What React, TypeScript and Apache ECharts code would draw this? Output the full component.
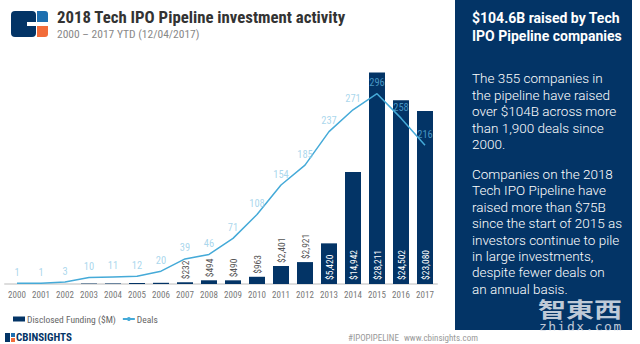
import React, { useEffect, useRef } from "react";
import * as echarts from "echarts";

const years = ["2000","2001","2002","2003","2004","2005","2006","2007","2008","2009","2010","2011","2012","2013","2014","2015","2016","2017"];
const funding = [0, 0, 0, 60, 70, 130, 160, 232, 494, 490, 963, 2401, 2921, 5420, 14942, 28211, 24502, 23080];
const deals = [1, 1, 3, 10, 11, 12, 20, 39, 46, 71, 108, 154, 185, 237, 271, 296, 258, 216];
const panelHeading = ["$104.6B raised by Tech", "IPO Pipeline companies"];
const panelPara1 = ["The 355 companies in", "the pipeline have raised", "over $104B across more", "than 1,900 deals since", "2000."];
const panelPara2 = ["Companies on the 2018", "Tech IPO Pipeline have", "raised more than $75B", "since the start of 2015 as", "investors continue to pile", "in large investments,", "despite fewer deals on", "an annual basis."];
const watermarkText = "zhidx.com";

const NAVY = "#033466";
const LINE = "#45aad8";
const NARROW = "'Liberation Sans Narrow', 'Roboto Condensed', 'DejaVu Sans Condensed', Roboto, sans-serif";

export default function App() {
  const ref = useRef<HTMLDivElement>(null);
  useEffect(() => {
    const chart = echarts.init(ref.current!, undefined, { renderer: "svg" });
    const barData = funding.map((v) => {
      if (v < 200) return { value: v, label: { show: false } };
      const inside = v > 4000;
      return {
        value: v,
        label: inside
          ? { show: true, position: "insideBottom", rotate: 90, align: "left", verticalAlign: "middle", distance: 4, color: "#ffffff" }
          : { show: true, position: "top", rotate: 90, align: "left", verticalAlign: "middle", distance: 3, color: "#555555" },
      };
    });
    const labelData = deals.map((v, i) => ({
      value: v,
      label: { color: i >= 15 ? "#5aaedb" : "#95cde8" },
    }));
    const texts: any[] = [];
    panelHeading.forEach((t, i) =>
      texts.push({ type: "text", left: 472, top: 11 + i * 18, style: { text: t, fill: "#fff", font: "bold 14px Roboto, sans-serif" } })
    );
    panelPara1.forEach((t, i) =>
      texts.push({ type: "text", left: 472, top: 71 + i * 16.5, style: { text: t, fill: "#fff", font: "300 13.5px Roboto, sans-serif" } })
    );
    panelPara2.forEach((t, i) =>
      texts.push({ type: "text", left: 472, top: 167 + i * 16.4, style: { text: t, fill: "#fff", font: "300 13.5px Roboto, sans-serif" } })
    );
    const wm: any[] = watermarkText.split("").map((c, i) => ({
      type: "text",
      x: 539 + i * 9.3,
      y: 320,
      style: { text: c, fill: "rgba(225,230,238,0.85)", font: "13px 'DejaVu Sans Mono', monospace", verticalAlign: "top" },
    }));
    chart.setOption({
      animation: false,
      grid: { left: 5, right: 203, top: 59, bottom: 60 },
      legend: {
        left: 8,
        top: 309,
        itemWidth: 12,
        itemHeight: 5,
        itemGap: 6,
        textStyle: { color: "#666", fontSize: 9.5, fontFamily: NARROW, padding: [0, 0, 0, -3] },
        data: [{ name: "Disclosed Funding ($M)", icon: "rect" }, { name: "Deals" }],
      },
      xAxis: {
        type: "category",
        data: years,
        axisLine: { lineStyle: { color: "#dddddd", width: 2 } },
        axisTick: { show: false },
        axisLabel: { color: "#777", fontSize: 9, fontFamily: NARROW, margin: 6 },
      },
      yAxis: [
        { type: "value", min: 0, max: 30000, show: false, splitLine: { show: false } },
        { type: "value", min: 0, max: 350, show: false, splitLine: { show: false } },
      ],
      series: [
        {
          name: "Disclosed Funding ($M)",
          type: "bar",
          data: barData,
          barWidth: 16,
          itemStyle: { color: NAVY },
          label: { fontSize: 9.5, fontFamily: NARROW, formatter: (p: any) => "$" + Number(p.value).toLocaleString("en-US") },
        },
        {
          name: "Deals",
          type: "line",
          yAxisIndex: 1,
          data: deals,
          symbol: "none",
          lineStyle: { color: LINE, width: 1.5 },
          itemStyle: { color: LINE },
          z: 3,
        },
        {
          name: "DealsLabels",
          type: "scatter",
          yAxisIndex: 1,
          data: labelData,
          symbolSize: 1,
          itemStyle: { color: "transparent" },
          label: { show: true, position: "top", distance: 5, fontSize: 10.5, fontFamily: NARROW, formatter: "{c}" },
          silent: true,
          z: 4,
        },
      ],
      graphic: [
        // logo
        { type: "rect", shape: { x: 11, y: 11, width: 25, height: 26, r: 4 }, style: { fill: NAVY } },
        { type: "rect", shape: { x: 27, y: 22, width: 10, height: 4 }, style: { fill: "#fff" } },
        { type: "rect", shape: { x: 37, y: 11, width: 11, height: 11, r: [0, 3, 0, 0] }, style: { fill: "#1d6fb0" } },
        { type: "rect", shape: { x: 37, y: 26, width: 11, height: 11, r: [0, 0, 3, 0] }, style: { fill: "#f26c3a" } },
        { type: "text", left: 57, top: 8, style: { text: "2018 Tech IPO Pipeline investment activity", fill: "#333", font: "bold 16.8px " + NARROW } },
        { type: "text", left: 57, top: 28, style: { text: "2000 – 2017 YTD (12/04/2017)", fill: "#888", font: "11.5px " + NARROW } },
        // panel
        { type: "rect", shape: { x: 455, y: 0, width: 177, height: 330 }, style: { fill: NAVY } },
        ...texts,
        // watermark
        { type: "text", x: 538, y: 297, scaleY: 0.75, style: { text: "智東西", fill: "rgba(225,230,238,0.85)", font: "bold 28px 'Noto Sans CJK TC', sans-serif", verticalAlign: "top" } },
        ...wm,
        // footer
        { type: "rect", shape: { x: 5, y: 333, width: 5, height: 9 }, style: { fill: NAVY } },
        { type: "rect", shape: { x: 11, y: 333, width: 4, height: 4 }, style: { fill: "#1d6fb0" } },
        { type: "rect", shape: { x: 11, y: 338, width: 4, height: 4 }, style: { fill: "#f26c3a" } },
        { type: "text", left: 16, top: 332, style: { text: "CBINSIGHTS", fill: NAVY, font: "bold 11px " + NARROW } },
        { type: "text", left: 348, top: 333, style: { text: "#IPOPIPELINE", fill: "#999", font: "9px " + NARROW } },
        { type: "text", left: 404, top: 333, style: { text: "www.cbinsights.com", fill: "#999", font: "9px " + NARROW } },
      ],
    });
    return () => chart.dispose();
  }, []);
  return <div ref={ref} style={{ width: 640, height: 344, position: "absolute", left: 0, top: 0, background: "#fff" }} />;
}
